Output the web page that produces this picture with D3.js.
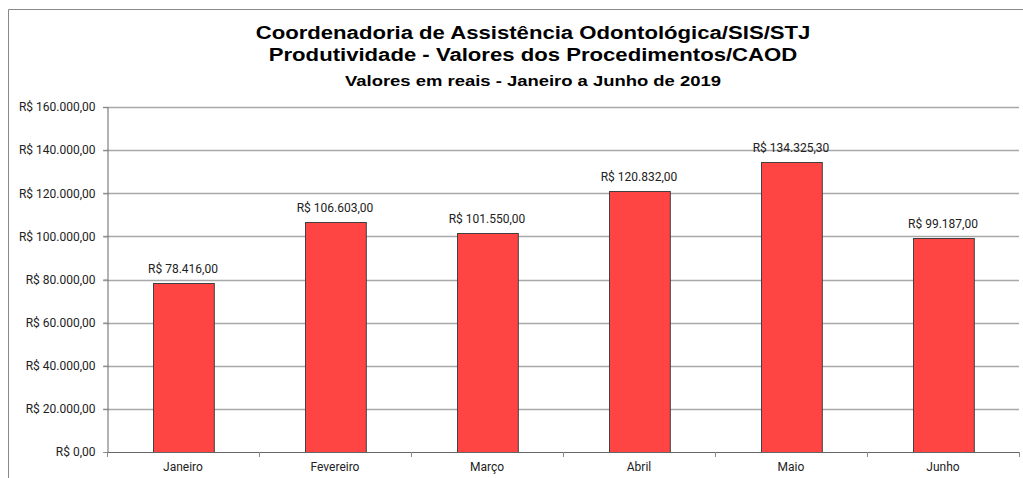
<!DOCTYPE html>
<html>
<head>
<meta charset="utf-8">
<script src="https://cdn.jsdelivr.net/npm/d3@7"></script>
<style>
  body { margin: 0; background: #fff; }
  .tick text, .valueLabel, .catLabel { font-family: Roboto, "Liberation Sans", sans-serif; font-size: 12px; fill: #222; }
  .chartTitle { font-family: "Liberation Sans", Arial, sans-serif; font-weight: bold; fill: #000; }
</style>
</head>
<body>
<svg id="chart" width="1023" height="478"></svg>
<script>
const months = ['Janeiro', 'Fevereiro', 'Março', 'Abril', 'Maio', 'Junho'];
const valores = [78416.00, 106603.00, 101550.00, 120832.00, 134325.30, 99187.00];
const yTicks = [0, 20000, 40000, 60000, 80000, 100000, 120000, 140000, 160000];
const titles = [
  'Coordenadoria de Assistência Odontológica/SIS/STJ',
  'Produtividade - Valores dos Procedimentos/CAOD',
  'Valores em reais - Janeiro a Junho de 2019'
];

const width = 1023, height = 478;
const fig = {
  margin: {top: 107, right: 4, bottom: 26, left: 107}
};
fig.width = width - fig.margin.left - fig.margin.right;
fig.height = height - fig.margin.top - fig.margin.bottom;

const svg = d3.select('#chart');

// frame
svg.append('path')
  .attr('d', 'M8.5,' + height + ' V9.5 H' + width)
  .attr('fill', 'none')
  .attr('stroke', '#888')
  .attr('stroke-width', 1);

const fmt = d3.formatLocale({decimal: ',', thousands: '.', grouping: [3], currency: ['R$ ', '']});
const money = fmt.format('$,.2f');

var x = d3.scaleBand()
  .domain(months)
  .range([0, fig.width])
  .paddingInner(0.6)
  .paddingOuter(0.3);

var y = d3.scaleLinear()
  .domain([0, 160000])
  .range([fig.height, 0]);

const g = svg.append('g')
  .attr('transform', 'translate(' + fig.margin.left + ',' + fig.margin.top + ')');

// gridlines
g.append('g')
  .selectAll('line')
  .data(yTicks.slice(1))
  .join('line')
    .attr('x1', -4)
    .attr('x2', fig.width)
    .attr('y1', d => Math.round(y(d)) + 0.5)
    .attr('y2', d => Math.round(y(d)) + 0.5)
    .attr('stroke', '#a8a8a8')
    .attr('stroke-width', 1.5);

// y axis
const yAxis = d3.axisLeft(y)
  .tickValues(yTicks)
  .tickFormat(d => money(d))
  .tickSize(4)
  .tickPadding(8);
g.append('g')
  .attr('class', 'yaxis')
  .attr('transform', 'translate(0.5,0)')
  .call(yAxis)
  .call(a => a.select('.domain').attr('stroke', '#666'))
  .call(a => a.selectAll('.tick line').attr('stroke', '#888'));

// bars
g.selectAll('.bar')
  .data(valores)
  .join('rect')
    .attr('class', 'bar')
    .attr('x', (d, i) => Math.round(x(months[i])) + 0.5)
    .attr('y', d => Math.round(y(d)) + 0.5)
    .attr('width', x.bandwidth())
    .attr('height', d => Math.round(y(0)) - Math.round(y(d)))
    .style('fill', '#ff4444')
    .style('stroke', '#404040')
    .style('stroke-width', 1);

// value labels
g.selectAll('.valueLabel')
  .data(valores)
  .join('text')
    .attr('class', 'valueLabel')
    .attr('x', (d, i) => x(months[i]) + x.bandwidth() / 2)
    .attr('y', d => y(d) - 10)
    .attr('text-anchor', 'middle')
    .text(d => money(d));

// x axis line and category boundary ticks
g.append('line')
  .attr('x1', 0)
  .attr('x2', fig.width)
  .attr('y1', fig.height + 0.5)
  .attr('y2', fig.height + 0.5)
  .attr('stroke', '#666');

g.append('g')
  .selectAll('line')
  .data(d3.range(months.length + 1))
  .join('line')
    .attr('x1', i => Math.round(i * x.step()) + 0.5)
    .attr('x2', i => Math.round(i * x.step()) + 0.5)
    .attr('y1', fig.height)
    .attr('y2', fig.height + 5)
    .attr('stroke', '#888');

g.selectAll('.catLabel')
  .data(months)
  .join('text')
    .attr('class', 'catLabel')
    .attr('x', d => x(d) + x.bandwidth() / 2)
    .attr('y', fig.height + 19)
    .attr('text-anchor', 'middle')
    .text(d => d);

// title: reference glyphs are wide-set, so scale horizontally
const titleStyle = [
  {y: 39, size: '18px'},
  {y: 61.5, size: '18px'},
  {y: 86, size: '15px'}
];
svg.append('g')
  .attr('transform', 'translate(533,0) scale(1.23,1)')
  .selectAll('.chartTitle')
  .data(titles)
  .join('text')
    .attr('class', 'chartTitle')
    .attr('text-anchor', 'middle')
    .attr('x', 0)
    .attr('y', (d, i) => titleStyle[i].y)
    .attr('font-size', (d, i) => titleStyle[i].size)
    .text(d => d);
</script>
</body>
</html>
